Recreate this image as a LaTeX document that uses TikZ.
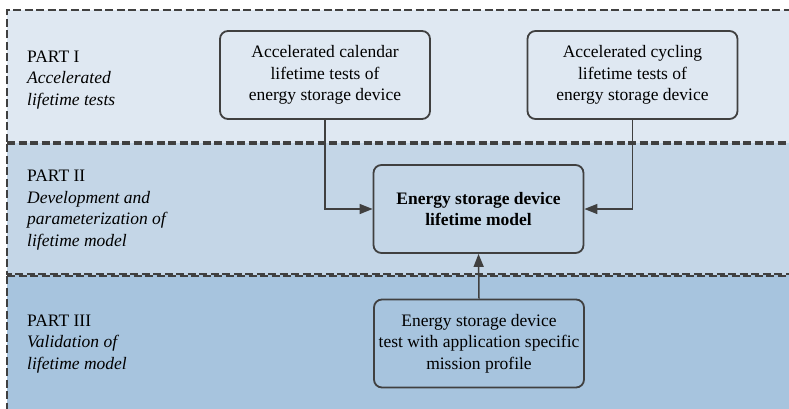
\documentclass[tikz,border=0pt]{standalone}
\usepackage{fontspec}
\setmainfont{Liberation Serif}[BoldFont={Liberation Serif Bold}, ItalicFont={Liberation Serif Italic}]
\usetikzlibrary{arrows.meta}
\definecolor{paleBlue}{RGB}{223,232,242}
\definecolor{midBlue}{RGB}{196,214,231}
\definecolor{deepBlue}{RGB}{167,196,222}
\definecolor{darkGrey}{RGB}{64,64,64}

\tikzset{
	bandLine/.style={draw=darkGrey, line width=2pt, dash pattern=on 8pt off 3.5pt},
	stageBox/.style={draw=darkGrey, line width=1.8pt, rounded corners=8pt, minimum width=210pt, minimum height=88pt, align=center, inner sep=2pt},
	partText/.style={anchor=west, align=left, inner sep=0pt},
	flowArrow/.style={draw=darkGrey, line width=1.5pt, -{Triangle[length=13pt,width=10pt]}}
}

\begin{document}
\begin{tikzpicture}[x=1pt, y=-1pt, font=\fontsize{17.5}{21.7}\selectfont]

	\useasboundingbox (0,0) rectangle (789,408);
	\clip (0,0) rectangle (789,408);

% Colour bands.

	\fill [fill=paleBlue] (7,10) rectangle (800,143);
	\fill [fill=midBlue] (7,143) rectangle (800,275);
	\fill [fill=deepBlue] (7,275) rectangle (800,420);

% Draw band borders.

	\draw [bandLine] (7,141.8) -- (7,10) -- (800,10);
	\draw [bandLine] (7,141.8) -- (800,141.8);
	\draw [bandLine] (7,144.2) -- (800,144.2);
	\draw [bandLine] (7,144.2) -- (7,273.8) -- (800,273.8);
	\draw [bandLine] (7,276.2) -- (800,276.2);
	\draw [bandLine] (7,276.2) -- (7,420);

% Part labels.

	\node [partText] (partOne) at (27,80) {PART I\\\textit{Accelerated}\\\textit{lifetime tests}};
	\node [partText] (partTwo) at (27,210) {PART II\\\textit{Development and}\\\textit{parameterization of}\\\textit{lifetime model}};
	\node [partText] (partThree) at (27,344) {PART III\\\textit{Validation of}\\\textit{lifetime model}};

% Define boxes.

	\node [stageBox] (calTest) at (325,75) {Accelerated calendar\\lifetime tests of\\energy storage device};
	\node [stageBox] (cycTest) at (632.5,75) {Accelerated cycling\\lifetime tests of\\energy storage device};
	\node [stageBox, font=\fontsize{17.5}{21.7}\selectfont\bfseries] (lifeModel) at (478.5,209) {Energy storage device\\lifetime model};
	\node [stageBox] (missionTest) at (479,343.5) {Energy storage device\\test with application specific\\mission profile};

% Draw arrows.

	\draw [flowArrow] (calTest.south) |- (lifeModel.west);
	\draw [flowArrow] (cycTest.south) |- (lifeModel.east);
	\draw [flowArrow] (missionTest.north) -- (lifeModel.south);

\end{tikzpicture}
\end{document}
